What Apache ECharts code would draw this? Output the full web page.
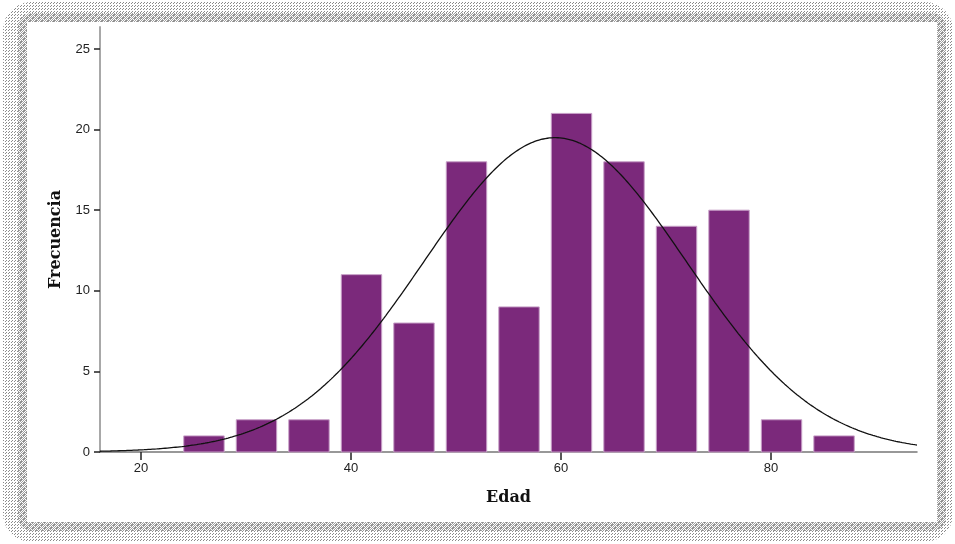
<!DOCTYPE html>
<html>
<head>
<meta charset="utf-8">
<title>Edad - histograma</title>
<script src="https://cdn.jsdelivr.net/npm/echarts@6/dist/echarts.min.js"></script>
<style>
  html, body { margin: 0; padding: 0; width: 955px; height: 544px; background: #ffffff; overflow: hidden; }
  /* stippled shadow around the card: sparse outer ring, denser inner band */
  #halo {
    position: absolute; left: 3px; top: 2px; width: 950px; height: 540px;
    border-radius: 28px;
  }
  #band {
    position: absolute; left: 18px; top: 13px; width: 928px; height: 518px;
    border-radius: 14px;
  }
  #card {
    position: absolute; left: 27px; top: 22px; width: 910px; height: 500px;
    background: #ffffff;
  }
  #chart { position: absolute; left: 0; top: 0; width: 955px; height: 544px; }
</style>
</head>
<body>
<div id="halo"></div>
<div id="band"></div>
<div id="card"></div>
<div id="chart"></div>
<script>
// Age histogram: bin centres (years), bin width and counts per bin
const binCenters = [26, 31, 36, 41, 46, 51, 56, 61, 66, 71, 76, 81, 86];
const binWidth = 5;
const frecuencia = [1, 2, 2, 11, 8, 18, 9, 21, 18, 14, 15, 2, 1];

// Axis ticks
const xTicks = [20, 40, 60, 80];
const yTicks = [0, 5, 10, 15, 20, 25];

// Small pixel tiles for the stippled frame
function dotTile(size, dots, color) {
  const c = document.createElement('canvas');
  c.width = size; c.height = size;
  const g = c.getContext('2d');
  g.fillStyle = color;
  dots.forEach(d => g.fillRect(d[0], d[1], 1, 1));
  return 'url(' + c.toDataURL() + ')';
}
document.getElementById('halo').style.backgroundImage = dotTile(3, [[0, 0], [2, 1]], '#8a8a8a');
document.getElementById('band').style.backgroundImage = dotTile(2, [[0, 0], [1, 1]], '#a0a0a0');

// Fitted normal curve, scaled to counts (N * bin width * density)
const n = frecuencia.reduce((a, b) => a + b, 0);
const media = binCenters.reduce((s, c, i) => s + c * frecuencia[i], 0) / n;
const desv = Math.sqrt(binCenters.reduce((s, c, i) => s + frecuencia[i] * (c - media) ** 2, 0) / (n - 1));

const xMin = 16.1, xMax = 93.9;
const curva = [];
for (let x = xMin; x <= xMax + 1e-9; x += 0.2) {
  const z = (x - media) / desv;
  curva.push([x, n * binWidth * Math.exp(-0.5 * z * z) / (desv * Math.sqrt(2 * Math.PI))]);
}

const barras = binCenters.map((c, i) => [c, frecuencia[i]]);
const barFraction = 0.77;

const chart = echarts.init(document.getElementById('chart'), null, { renderer: 'canvas' });
chart.setOption({
  backgroundColor: 'transparent',
  animation: false,
  grid: { left: 100, right: 38, top: 27, bottom: 92 },
  xAxis: {
    type: 'value',
    min: xMin, max: xMax,
    name: 'Edad',
    nameLocation: 'middle',
    nameGap: 38,
    nameTextStyle: { fontFamily: 'DejaVu Serif', fontWeight: 'bold', fontSize: 16, color: '#111' },
    splitLine: { show: false },
    axisLine: { show: true, onZero: false, lineStyle: { color: '#777', width: 1.5 } },
    axisTick: { show: true, length: 8, customValues: xTicks, lineStyle: { color: '#222', width: 1.5 } },
    axisLabel: { customValues: xTicks, margin: 10, fontFamily: 'Liberation Sans', fontSize: 13, color: '#222' }
  },
  yAxis: {
    type: 'value',
    min: 0, max: 26.36,
    name: 'Frecuencia',
    nameLocation: 'middle',
    nameGap: 36,
    nameTextStyle: { fontFamily: 'DejaVu Serif', fontWeight: 'bold', fontSize: 16, color: '#111' },
    splitLine: { show: false },
    axisLine: { show: true, lineStyle: { color: '#a8a8a8', width: 2 } },
    axisTick: { show: true, length: 6, customValues: yTicks, lineStyle: { color: '#222', width: 1.5 } },
    axisLabel: { customValues: yTicks, margin: 10, fontFamily: 'Liberation Sans', fontSize: 13, color: '#222' }
  },
  series: [
    {
      type: 'custom',
      data: barras,
      encode: { x: 0, y: 1 },
      z: 2,
      renderItem: function (params, api) {
        const c = api.value(0), f = api.value(1);
        const half = binWidth * barFraction / 2;
        const p0 = api.coord([c - half, f]);
        const p1 = api.coord([c + half, 0]);
        return {
          type: 'rect',
          shape: { x: p0[0], y: p0[1], width: p1[0] - p0[0], height: p1[1] - p0[1] },
          style: { fill: '#7b297b', stroke: '#c8a0c8', lineWidth: 1 }
        };
      }
    },
    {
      type: 'line',
      data: curva,
      showSymbol: false,
      z: 5,
      lineStyle: { color: '#111', width: 1.3 }
    }
  ]
});
</script>
</body>
</html>
